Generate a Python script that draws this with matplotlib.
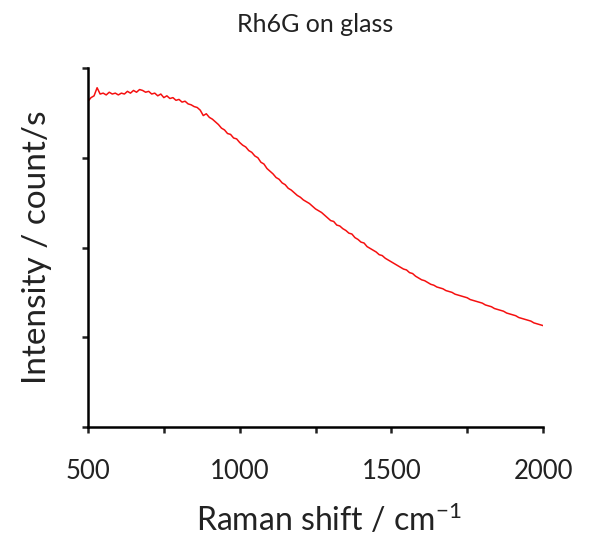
import numpy as np
import matplotlib
matplotlib.use("Agg")
import matplotlib.pyplot as plt

plt.rcParams['font.family'] = ['Lato', 'DejaVu Sans']
plt.rcParams['mathtext.fontset'] = 'custom'
plt.rcParams['mathtext.rm'] = 'Lato'
plt.rcParams['mathtext.it'] = 'Lato:italic'

# Raman shift grid (cm-1), one reading every 10 cm-1
shift = np.arange(500, 2001, 10)

# Rh6G on glass, intensity (arb. units)
intensity = [
    3.63, 3.67, 3.69, 3.78, 3.71, 3.72, 3.70, 3.73, 3.71, 3.72,
    3.70, 3.72, 3.71, 3.74, 3.72, 3.75, 3.73, 3.76, 3.75, 3.73,
    3.74, 3.71, 3.72, 3.69, 3.71, 3.67, 3.69, 3.66, 3.67, 3.64,
    3.65, 3.62, 3.63, 3.60, 3.59, 3.57, 3.56, 3.53, 3.47, 3.49,
    3.45, 3.43, 3.40, 3.37, 3.33, 3.31, 3.27, 3.26, 3.22, 3.21,
    3.17, 3.14, 3.12, 3.08, 3.06, 3.02, 3.00, 2.95, 2.93, 2.88,
    2.85, 2.82, 2.78, 2.76, 2.72, 2.70, 2.66, 2.64, 2.61, 2.58,
    2.56, 2.53, 2.51, 2.49, 2.46, 2.43, 2.41, 2.39, 2.36, 2.33,
    2.30, 2.29, 2.25, 2.24, 2.21, 2.19, 2.16, 2.15, 2.11, 2.09,
    2.06, 2.05, 2.01, 1.99, 1.97, 1.95, 1.92, 1.91, 1.88, 1.86,
    1.84, 1.82, 1.80, 1.78, 1.76, 1.75, 1.72, 1.71, 1.68, 1.66,
    1.64, 1.63, 1.61, 1.59, 1.58, 1.56, 1.55, 1.54, 1.52, 1.51,
    1.50, 1.48, 1.47, 1.46, 1.45, 1.44, 1.42, 1.41, 1.40, 1.39,
    1.38, 1.36, 1.35, 1.34, 1.32, 1.31, 1.30, 1.29, 1.27, 1.26,
    1.25, 1.24, 1.22, 1.21, 1.20, 1.19, 1.18, 1.16, 1.15, 1.14,
    1.13,
]

x_ticks = [500, 750, 1000, 1250, 1500, 1750, 2000]
x_labels = ['500', '', '1000', '', '1500', '', '2000']

fig = plt.figure(figsize=(5.94, 5.46), dpi=100)
ax = fig.add_axes([88 / 594, 1 - 427 / 546, 455 / 594, 359 / 546])

ax.plot(shift, intensity, color='#f51010', lw=1.1)

ax.set_xlim(500, 2000)
ax.set_ylim(0, 4)
ax.set_xticks(x_ticks)
ax.set_xticklabels(x_labels)
ax.set_yticks([0, 1, 2, 3, 4])
ax.set_yticklabels([])

for side in ['top', 'right']:
    ax.spines[side].set_visible(False)
for side in ['left', 'bottom']:
    ax.spines[side].set_linewidth(1.8)
ax.tick_params(direction='out', length=4, width=1.8, labelsize=18.5, pad=19,
               colors='#222222', labelcolor='#222222')

ax.set_title('Rh6G on glass', fontsize=18, pad=26, color='#222222')
ax.set_xlabel('Raman shift / cm$^{-1}$', fontsize=23, color='#222222')
ax.xaxis.set_label_coords(0.53, -0.21)
ax.set_ylabel('Intensity / count/s', fontsize=24, labelpad=3, color='#222222')

fig.savefig('out.png', dpi=100)
